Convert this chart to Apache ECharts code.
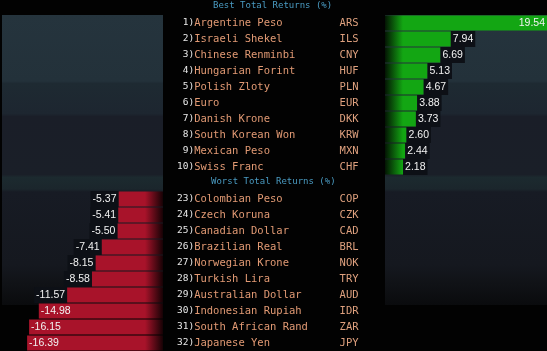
<!DOCTYPE html>
<html lang="en">
<head>
    <meta charset="UTF-8">
    <title>Total Returns</title>
    <script src="https://cdn.jsdelivr.net/npm/echarts@6/dist/echarts.min.js"></script>
    <style>
        html, body { margin: 0; padding: 0; background: #020202; }
        #chart { width: 547px; height: 351px; }
    </style>
</head>
<body>
    <div id="chart"></div>
    <script>
        // best performers (top panel)
        var bestRanks = [1, 2, 3, 4, 5, 6, 7, 8, 9, 10];
        var bestNames = ['Argentine Peso', 'Israeli Shekel', 'Chinese Renminbi', 'Hungarian Forint', 'Polish Zloty',
            'Euro', 'Danish Krone', 'South Korean Won', 'Mexican Peso', 'Swiss Franc'];
        var bestCodes = ['ARS', 'ILS', 'CNY', 'HUF', 'PLN', 'EUR', 'DKK', 'KRW', 'MXN', 'CHF'];
        var bestValues = [19.54, 7.94, 6.69, 5.13, 4.67, 3.88, 3.73, 2.60, 2.44, 2.18];

        // worst performers (bottom panel)
        var worstRanks = [23, 24, 25, 26, 27, 28, 29, 30, 31, 32];
        var worstNames = ['Colombian Peso', 'Czech Koruna', 'Canadian Dollar', 'Brazilian Real', 'Norwegian Krone',
            'Turkish Lira', 'Australian Dollar', 'Indonesian Rupiah', 'South African Rand', 'Japanese Yen'];
        var worstCodes = ['COP', 'CZK', 'CAD', 'BRL', 'NOK', 'TRY', 'AUD', 'IDR', 'ZAR', 'JPY'];
        var worstValues = [-5.37, -5.41, -5.50, -7.41, -8.15, -8.58, -11.57, -14.98, -16.15, -16.39];

        var maxAbs = Math.max.apply(null, bestValues.concat(worstValues.map(Math.abs)));

        var monoFont = "'DejaVu Sans Mono', monospace";
        var numFont = "'Liberation Sans', Arial, sans-serif";

        var rowRich = {
            r: { color: '#e8e8e8', fontSize: 9.5, fontFamily: monoFont },
            n: { color: '#e29a74', fontSize: 10.5, fontFamily: monoFont },
            c: { color: '#dea07e', fontSize: 10.5, fontFamily: monoFont }
        };

        function padRight(s, n) { while (s.length < n) s += ' '; return s; }
        function padLeft(s, n) { while (s.length < n) s = ' ' + s; return s; }

        // monospace columns: rank (3) | name (23) | code
        function rowLabel(ranks, codes) {
            return function (value, idx) {
                return '{r|' + padLeft(ranks[idx] + ')', 3) + '}{n|' + padRight(value, 23) + '}{c|' + codes[idx] + '}';
            };
        }

        function barItems(values, side) {
            return values.map(function (v) {
                var inside = Math.abs(v) / maxAbs > 0.72;
                var lbl = {
                    show: true,
                    position: inside ? (side > 0 ? 'insideRight' : 'insideLeft') : (side > 0 ? 'right' : 'left'),
                    distance: inside ? 2 : 0,
                    color: '#f2f2f2',
                    fontSize: 10.5,
                    fontFamily: numFont,
                    formatter: function (p) { return p.value.toFixed(2); }
                };
                if (!inside) {
                    lbl.backgroundColor = '#0d1016';
                    lbl.padding = [2, 2, 2, 2];
                    lbl.lineHeight = 12;
                }
                return { value: v, label: lbl };
            });
        }

        var panelFill = new echarts.graphic.LinearGradient(0, 0, 0, 1, [
            { offset: 0, color: '#25343d' },
            { offset: 0.228, color: '#23313a' },
            { offset: 0.236, color: '#1e2a32' },
            { offset: 0.34, color: '#1d2630' },
            { offset: 0.35, color: '#1a1e28' },
            { offset: 0.55, color: '#1a1f28' },
            { offset: 0.56, color: '#1c2a2f' },
            { offset: 0.6, color: '#1b262c' },
            { offset: 0.61, color: '#171b24' },
            { offset: 0.86, color: '#15181f' },
            { offset: 0.93, color: '#101216' },
            { offset: 1, color: '#0a0b0d' }
        ]);

        var chart = echarts.init(document.getElementById('chart'));
        var hiddenX = {
            type: 'value',
            axisLine: { show: false },
            axisTick: { show: false },
            axisLabel: { show: false },
            splitLine: { show: false }
        };

        var option = {
            backgroundColor: '#020202',
            animation: false,
            title: [
                {
                    text: 'Best Total Returns (%)',
                    left: 213, top: 1.5, padding: 0,
                    textStyle: { color: '#4a9bc2', fontSize: 9, fontWeight: 'normal', fontFamily: monoFont }
                },
                {
                    text: 'Worst Total Returns (%)',
                    left: 211, top: 177, padding: 0,
                    textStyle: { color: '#4a9bc2', fontSize: 9, fontWeight: 'normal', fontFamily: monoFont }
                }
            ],
            graphic: [
                { type: 'rect', shape: { x: 2, y: 15, width: 161, height: 290 }, style: { fill: panelFill }, silent: true },
                { type: 'rect', shape: { x: 385, y: 15, width: 162, height: 290 }, style: { fill: panelFill }, silent: true }
            ],
            grid: [
                { left: 385, top: 15, width: 162, height: 160 },
                { left: 1, top: 191, width: 162, height: 160 }
            ],
            xAxis: [
                Object.assign({ gridIndex: 0, min: 0, max: maxAbs }, hiddenX),
                Object.assign({ gridIndex: 1, min: -maxAbs, max: 0 }, hiddenX)
            ],
            yAxis: [
                {
                    gridIndex: 0,
                    type: 'category',
                    inverse: true,
                    data: bestNames,
                    axisLine: { show: false },
                    axisTick: { show: false },
                    axisLabel: { margin: 208, align: 'left', formatter: rowLabel(bestRanks, bestCodes), rich: rowRich }
                },
                {
                    gridIndex: 1,
                    type: 'category',
                    position: 'right',
                    inverse: true,
                    data: worstNames,
                    axisLine: { show: false },
                    axisTick: { show: false },
                    axisLabel: { margin: 14, align: 'left', formatter: rowLabel(worstRanks, worstCodes), rich: rowRich }
                }
            ],
            series: [
                {
                    name: 'Best',
                    type: 'bar',
                    xAxisIndex: 0,
                    yAxisIndex: 0,
                    barWidth: 15,
                    itemStyle: {
                        color: new echarts.graphic.LinearGradient(385, 0, 403, 0, [
                            { offset: 0, color: '#031503' },
                            { offset: 1, color: '#13a613' }
                        ], true)
                    },
                    data: barItems(bestValues, 1)
                },
                {
                    name: 'Worst',
                    type: 'bar',
                    xAxisIndex: 1,
                    yAxisIndex: 1,
                    barWidth: 15,
                    itemStyle: {
                        color: new echarts.graphic.LinearGradient(163, 0, 145, 0, [
                            { offset: 0, color: '#160205' },
                            { offset: 1, color: '#a8132a' }
                        ], true)
                    },
                    data: barItems(worstValues, -1)
                }
            ]
        };
        chart.setOption(option);
    </script>
</body>
</html>
